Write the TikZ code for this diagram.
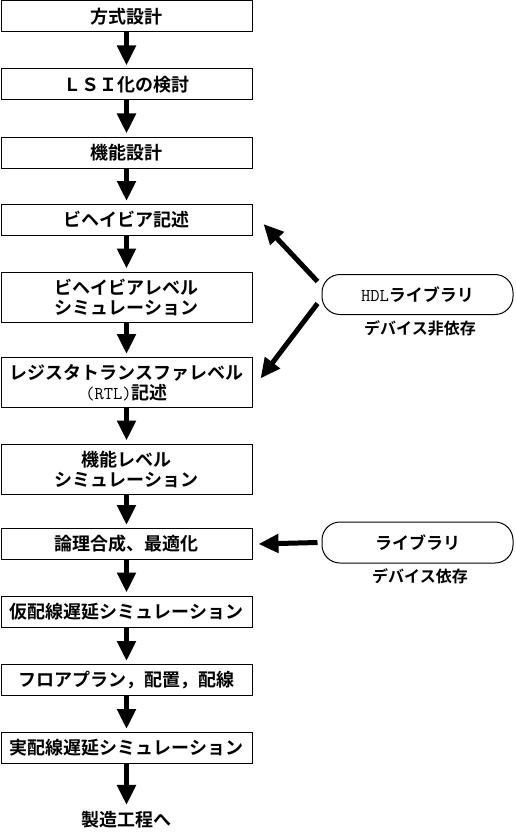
\documentclass[tikz,border=0pt]{standalone}
\usepackage{fontspec}
\setmainfont{Noto Sans CJK JP}[BoldFont={Noto Sans CJK JP Bold}]
\usetikzlibrary{arrows.meta}
\begin{document}
\begin{tikzpicture}[x=1pt,y=-1pt,
        stepbox/.style={draw,line width=1pt,minimum width=251pt,minimum height=31pt,
            inner sep=0pt,align=center,font=\fontsize{18}{20}\selectfont\bfseries},
        libbox/.style={draw,line width=1pt,rounded corners=18pt,minimum width=191pt,
            minimum height=40pt,inner sep=0pt,font=\fontsize{17}{20}\selectfont\bfseries},
        note/.style={font=\fontsize{16}{18}\selectfont\bfseries},
        flow/.style={line width=5pt,-{Triangle[length=20pt,width=18pt]}}]
                \useasboundingbox (0,0) rectangle (515,832);

                \node[stepbox] (method) at (126.5, 16.5) {方式設計};
                \node[stepbox] (lsi) at (126.5, 84.5) {ＬＳＩ化の検討};
                \node[stepbox] (func) at (126.5, 152.5) {機能設計};
                \node[stepbox] (beh) at (126.5, 220) {ビヘイビア記述};
                \node[stepbox,minimum height=50pt] (behsim) at (126.5, 297) {ビヘイビアレベル\\シミュレーション};
                \node[stepbox,minimum height=50pt] (rtl) at (126.5, 382.5) {レジスタトランスファレベル\\{\mdseries\ttfamily (RTL)}記述};
                \node[stepbox,minimum height=50pt] (funcsim) at (126.5, 469) {機能レベル\\シミュレーション};
                \node[stepbox] (synth) at (126.5, 544) {論理合成、最適化};
                \node[stepbox] (presim) at (126.5, 611.5) {仮配線遅延シミュレーション};
                \node[stepbox] (layout) at (126.5, 680) {フロアプラン，配置，配線};
                \node[stepbox] (postsim) at (126.5, 748) {実配線遅延シミュレーション};
                \node[font=\fontsize{18}{20}\selectfont\bfseries] (fab) at (126.5, 820) {製造工程へ};

                \node[libbox] (hdl) at (417.5, 294.5) {{\mdseries\ttfamily\fontsize{18}{20}\selectfont HDL}ライブラリ};
                \node[note] (hdlnote) at (420, 328) {デバイス非依存};
                \node[libbox,minimum height=41pt] (lib) at (417.5, 542.5) {ライブラリ};
                \node[note] (libnote) at (420, 576) {デバイス依存};

                \foreach \a/\b in {method/lsi,lsi/func,func/beh,beh/behsim,behsim/rtl,
                    rtl/funcsim,funcsim/synth,synth/presim,presim/layout,layout/postsim,postsim/fab}
                    \draw[flow,shorten >=3pt] (\a) -- (\b);

                \draw[flow] ([shift={(-4,-13)}]hdl.west) -- ([shift={(11,4)}]beh.east);
                \draw[flow] ([shift={(-4,9)}]hdl.west) -- ([shift={(8,-4)}]rtl.east);
                \draw[flow] ([xshift=-4pt]lib.west) -- ([xshift=6pt]synth.east);
            \end{tikzpicture}
\end{document}
